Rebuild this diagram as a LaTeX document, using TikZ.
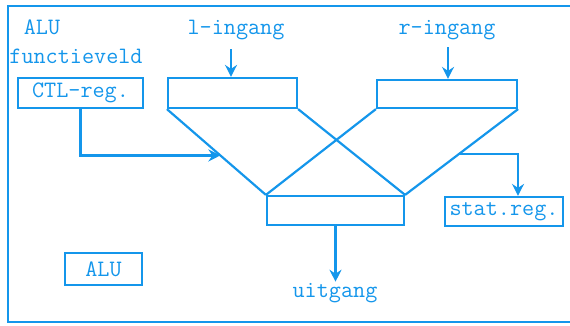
\documentclass[tikz,border=0pt]{standalone}
\usepackage{fontspec}
\usetikzlibrary{arrows.meta,calc}
\definecolor{ink}{RGB}{20,150,235}
\begin{document}
\begin{tikzpicture}[x=1pt,y=-1pt,
  every node/.style={text=ink,font=\ttfamily\fontsize{23.5}{26}\selectfont},
  regbox/.style={draw=ink,line width=2.2pt,inner sep=0pt},
  wire/.style={draw=ink,line width=2.2pt},
  arr/.style={wire,-{Stealth[length=12pt,width=12pt,inset=4pt]}}]
\useasboundingbox (0,0) rectangle (570,325);
% frame
\draw[wire] (570,6) -- (8,6) -- (8,322) -- (570,322);
% labels
\node (alut) at (42,27) {ALU};
\node (fv) at (76,56) {functieveld};
\node[regbox,minimum width=125pt,minimum height=30pt] (ctl) at (80.5,93) {CTL-reg.};
\node (lin) at (236,30) {l-ingang};
\node (rin) at (447,30) {r-ingang};
% boxes
\node[regbox,minimum width=129pt,minimum height=30pt] (lbox) at (232.5,93) {};
\node[regbox,minimum width=140pt,minimum height=28pt] (rbox) at (447,94) {};
\node[regbox,minimum width=137pt,minimum height=29pt] (bbox) at (335.5,210.5) {};
\node[regbox,minimum width=118pt,minimum height=29pt] (stat) at (504,211.5) {stat.reg.};
\node[regbox,minimum width=77pt,minimum height=32pt] (alu) at (103.5,269) {ALU};
\node (uit) at (335,293) {uitgang};
% crossing lines
\draw[wire] (lbox.south west) -- (bbox.north west);
\draw[wire] (lbox.south east) -- (bbox.north east);
\draw[wire] (rbox.south west) -- (bbox.north west);
\draw[wire] (rbox.south east) -- (bbox.north east);
% inputs
\coordinate (la) at (231,49);
\coordinate (ra) at (448,47);
\draw[arr] (la) -- (la |- lbox.north);
\draw[arr] (ra) -- (ra |- rbox.north);
% control
\coordinate (ca) at ($(lbox.south west)!0.54!(bbox.north west)$);
\draw[arr] (ctl.south) |- (ca);
% status
\coordinate (sa) at ($(rbox.south east)!0.52!(bbox.north east)$);
\draw[arr] (sa) -| ([xshift=14pt]stat.north);
% output
\draw[arr] (bbox.south) -- ([yshift=-2pt]bbox.south |- uit.north);
\end{tikzpicture}
\end{document}
